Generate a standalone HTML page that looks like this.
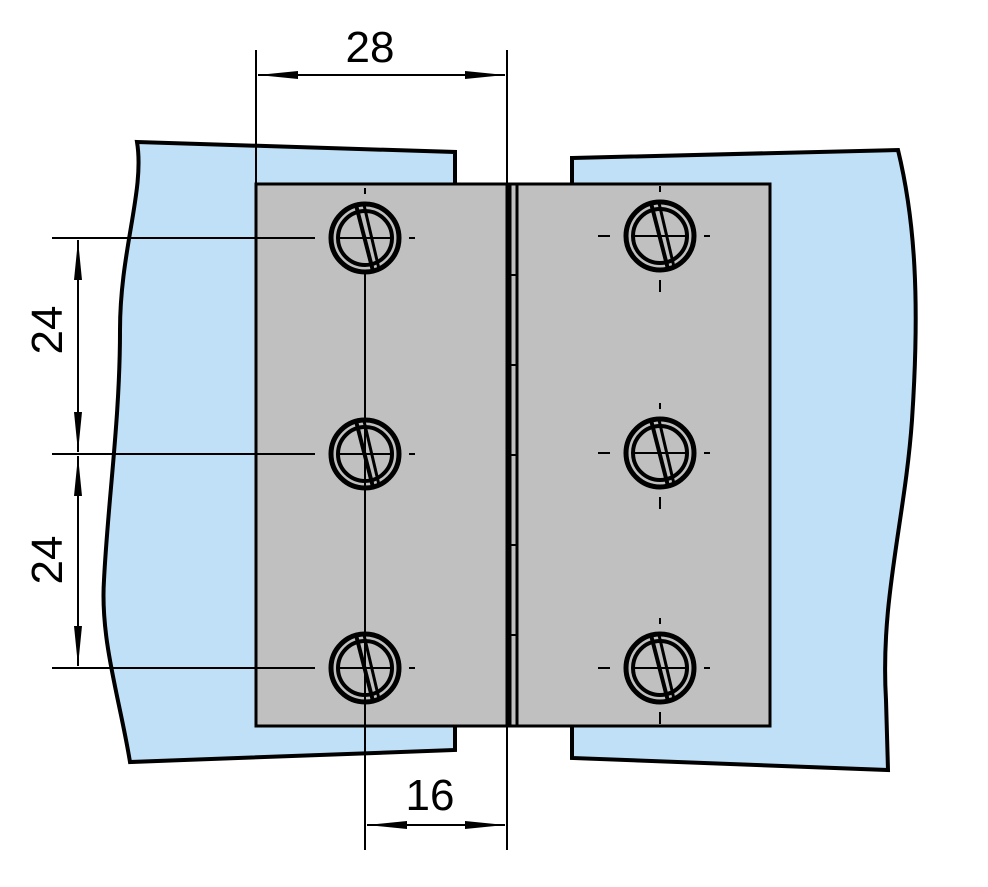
<!DOCTYPE html>
<html><head><style>body{margin:0;background:#fff}svg{display:block}</style></head><body>
<svg width="988" height="887" viewBox="0 0 988 887" xmlns="http://www.w3.org/2000/svg">
<defs>
<marker id="a" markerWidth="12" markerHeight="8" refX="12" refY="4" orient="auto-start-reverse" markerUnits="userSpaceOnUse">
<path d="M0,0 L12,4 L0,8 Z" fill="#000" transform="scale(3.2,1) translate(-8.25,0)"/>
</marker>
<marker id="b" markerWidth="40" markerHeight="10" refX="40" refY="5" orient="auto-start-reverse" markerUnits="userSpaceOnUse">
<path d="M0,1 L40,5 L0,9 Z" fill="#000"/>
</marker>
<g id="s">
<circle r="34" fill="none" stroke="#000" stroke-width="5"/>
<circle r="27" fill="none" stroke="#000" stroke-width="4"/>
<line x1="-9" y1="-33" x2="8" y2="33" stroke="#000" stroke-width="4"/>
<line x1="-1" y1="-33" x2="14" y2="31" stroke="#000" stroke-width="3"/>
<line x1="-27" y1="0" x2="27" y2="0" stroke="#000" stroke-width="2"/>
<line x1="-62" y1="0" x2="-50" y2="0" stroke="#000" stroke-width="2"/>
<line x1="44" y1="0" x2="50" y2="0" stroke="#000" stroke-width="2"/>
<line x1="0" y1="-50" x2="0" y2="-44" stroke="#000" stroke-width="2"/>
<line x1="0" y1="44" x2="0" y2="56" stroke="#000" stroke-width="2"/>
</g>
</defs>
<g stroke="#000" stroke-width="4" fill="#bfe0f6">
<path d="M137,142 L455,152 L455,750 L130,762 C120,700 100,640 104,580 C108,500 120,420 120,330 C120,250 145,190 137,142 Z"/>
<path d="M572,158 L898,150 C915,220 920,300 912,420 C905,520 880,600 886,700 L888,770 L572,758 Z"/>
</g>
<g stroke="#000" stroke-width="3" fill="#c0c0c0">
<rect x="256" y="184" width="251" height="542"/>
<rect x="517" y="184" width="253" height="542"/>
<rect x="510" y="184" width="7" height="542"/>
</g>
<g stroke="#000" stroke-width="2">
<line x1="510" y1="275" x2="517" y2="275"/><line x1="510" y1="365" x2="517" y2="365"/>
<line x1="510" y1="455" x2="517" y2="455"/><line x1="510" y1="545" x2="517" y2="545"/>
<line x1="510" y1="635" x2="517" y2="635"/>
</g>
<use href="#s" x="365" y="238"/><use href="#s" x="365" y="454"/><use href="#s" x="365" y="668"/>
<use href="#s" x="660" y="236"/><use href="#s" x="660" y="453"/><use href="#s" x="660" y="668"/>
<g stroke="#000" stroke-width="2" fill="none">
<line x1="256" y1="50" x2="256" y2="184"/>
<line x1="507" y1="50" x2="507" y2="850"/>
<line x1="365" y1="272" x2="365" y2="850"/>
<line x1="52" y1="238" x2="310" y2="238"/>
<line x1="52" y1="454" x2="310" y2="454"/>
<line x1="52" y1="668" x2="310" y2="668"/>
<line x1="258" y1="75" x2="505" y2="75" marker-start="url(#b)" marker-end="url(#b)"/>
<line x1="367" y1="825" x2="505" y2="825" marker-start="url(#b)" marker-end="url(#b)"/>
<line x1="78" y1="240" x2="78" y2="452" marker-start="url(#b)" marker-end="url(#b)"/>
<line x1="78" y1="456" x2="78" y2="666" marker-start="url(#b)" marker-end="url(#b)"/>
</g>
<g font-family="Liberation Sans, sans-serif" font-size="44" text-anchor="middle">
<text x="370" y="62">28</text>
<text x="430" y="810">16</text>
<text transform="translate(62,330) rotate(-90)">24</text>
<text transform="translate(62,560) rotate(-90)">24</text>
</g>
</svg>
</body></html>
